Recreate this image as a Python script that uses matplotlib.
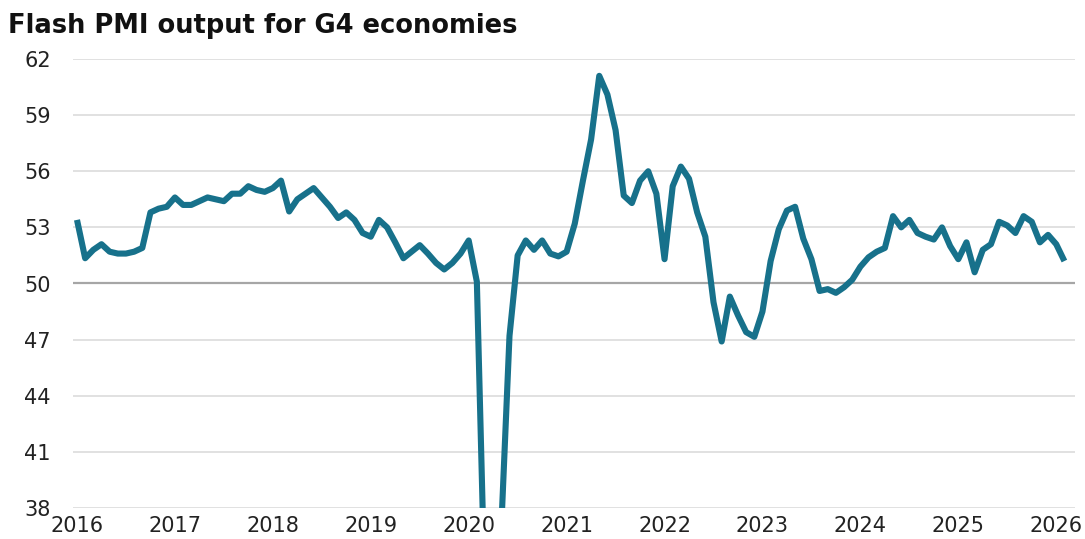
import numpy as np
import matplotlib
matplotlib.use("Agg")
import matplotlib.pyplot as plt

# 月度数据: 2016年1月 - 2026年2月
years = ["2016", "2017", "2018", "2019", "2020", "2021",
         "2022", "2023", "2024", "2025", "2026"]
pmi = [
    53.4, 51.35, 51.8, 52.1, 51.7, 51.6, 51.6, 51.7, 51.9, 53.8, 54.0, 54.1,   # 2016
    54.6, 54.2, 54.2, 54.4, 54.6, 54.5, 54.4, 54.8, 54.8, 55.2, 55.0, 54.9,   # 2017
    55.1, 55.5, 53.85, 54.5, 54.8, 55.1, 54.6, 54.1, 53.5, 53.8, 53.4, 52.7,  # 2018
    52.5, 53.4, 53.0, 52.2, 51.35, 51.7, 52.05, 51.6, 51.1, 50.75, 51.1, 51.6,  # 2019
    52.3, 50.1, 33.0, 20.0, 37.0, 47.2, 51.5, 52.3, 51.8, 52.3, 51.6, 51.45,  # 2020
    51.7, 53.2, 55.5, 57.7, 61.1, 60.1, 58.2, 54.7, 54.3, 55.5, 56.0, 54.8,   # 2021
    51.3, 55.2, 56.25, 55.6, 53.8, 52.5, 49.0, 46.9, 49.3, 48.3, 47.4, 47.15,  # 2022
    48.5, 51.2, 52.9, 53.9, 54.1, 52.4, 51.3, 49.6, 49.7, 49.5, 49.8, 50.2,   # 2023
    50.9, 51.4, 51.7, 51.9, 53.6, 53.0, 53.4, 52.7, 52.5, 52.35, 53.0, 52.0,  # 2024
    51.3, 52.2, 50.6, 51.8, 52.1, 53.3, 53.1, 52.7, 53.6, 53.3, 52.2, 52.6,   # 2025
    52.1, 51.2,                                                               # 2026
]
y_ticks = [38, 41, 44, 47, 50, 53, 56, 59, 62]

line_color = "#17718b"
font = "DejaVu Sans"

fig = plt.figure(figsize=(10.85, 5.39), dpi=100)
ax = fig.add_axes([73 / 1085, 31 / 539, (1075 - 73) / 1085, (508 - 59) / 539])

months = np.arange(len(pmi))

# 网格线
for v in y_ticks:
    if v == 50:
        ax.axhline(v, color="#a6a6a6", lw=1.6, zorder=1)
    else:
        ax.axhline(v, color="#dcdcdc", lw=1.2, zorder=1)

ax.plot(months, pmi, color=line_color, lw=4.4, solid_joinstyle="round",
        solid_capstyle="butt", zorder=3)

ax.set_ylim(38, 62)
ax.set_xlim(-0.49, 122.3)
ax.set_yticks(y_ticks)
ax.set_yticklabels([str(v) for v in y_ticks], fontsize=15, family=font, color="#222222")
ax.set_xticks(np.arange(0, 121, 12))
ax.set_xticklabels(years, fontsize=15, family=font, color="#222222")
ax.tick_params(axis="y", length=0, pad=16)
ax.tick_params(axis="x", length=0, pad=6)
for s in ax.spines.values():
    s.set_visible(False)

fig.text(8 / 1085, 1 - 33 / 539, "Flash PMI output for G4 economies",
         fontsize=18.5, fontweight="bold", family=font, color="#111111",
         va="baseline", ha="left")

fig.savefig("out.png", dpi=100)
